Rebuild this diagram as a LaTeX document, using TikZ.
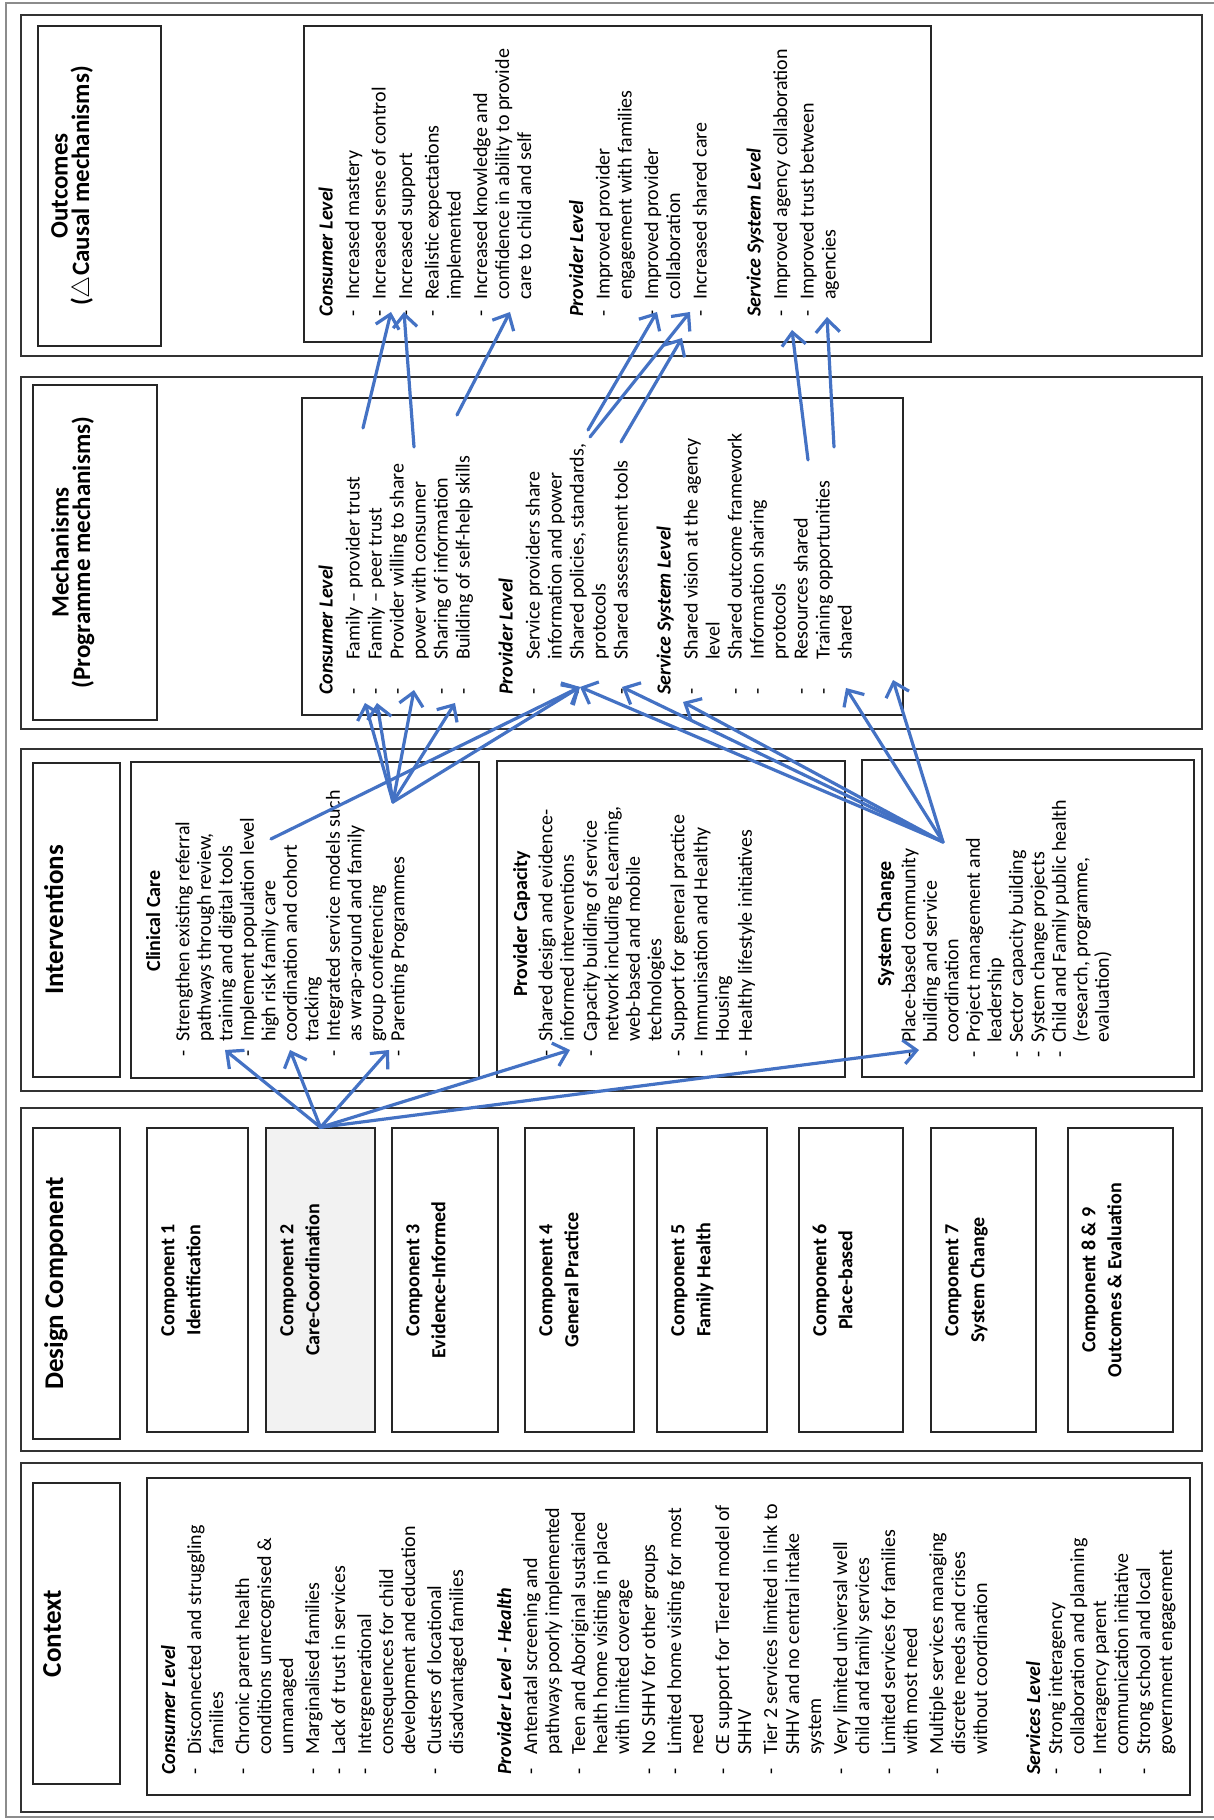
\documentclass[tikz,border=0pt]{standalone}
\usepackage{fontspec}
\setmainfont{Carlito}
\usetikzlibrary{arrows.meta, positioning}
\definecolor{linkblue}{RGB}{68,114,196}
\definecolor{compgrey}{RGB}{242,242,242}
\newcommand{\lvl}[1]{\multicolumn{2}{@{}l@{}}{\bfseries\itshape #1}}

\begin{document}
\begin{tikzpicture}[
        x=1pt, y=1pt,
        every node/.style={inner sep=0pt},
        outerframe/.style={draw=black!45, line width=1.6pt},
        bandbox/.style={draw=black!80, line width=1.4pt},
        cellbox/.style={draw=black!85, line width=1.3pt},
        titletext/.style={font=\fontsize{27}{27}\selectfont\bfseries, anchor=base},
        titletwo/.style={font=\fontsize{25}{21.5}\selectfont\bfseries, align=center, anchor=north},
        headtext/.style={font=\fontsize{20}{21.5}\selectfont\bfseries, anchor=base},
        comptext/.style={font=\fontsize{20}{26}\selectfont\bfseries, anchor=north},
        ctxtext/.style={font=\fontsize{20}{22}\selectfont, anchor=north west},
        inttext/.style={font=\fontsize{20}{21.5}\selectfont, anchor=north west},
        mechtext/.style={font=\fontsize{20}{22}\selectfont, anchor=north west},
        outtext/.style={font=\fontsize{20}{22}\selectfont, anchor=north west},
        arrowlink/.style={-{Straight Barb[length=13pt,width=24pt]}, line width=3.2pt, draw=linkblue, line cap=round}
    ]
    \useasboundingbox (0,0) rectangle (1213,1820);
    \begin{scope}[rotate=90, transform shape]
        \node[outerframe, minimum width=1814pt, minimum height=1214pt] (frame) at (910,-613) {};

        \node[bandbox, minimum width=349pt, minimum height=1181pt] (ctxband) at (182.5,-611.5) {};
        \node[bandbox, minimum width=343pt, minimum height=1181pt] (desband) at (540.5,-611.5) {};
        \node[bandbox, minimum width=342pt, minimum height=1181pt] (intband) at (900,-611.5) {};
        \node[bandbox, minimum width=352pt, minimum height=1181pt] (mechband) at (1267,-611.5) {};
        \node[bandbox, minimum width=341pt, minimum height=1181pt] (outband) at (1634.5,-611.5) {};

        \node[cellbox, minimum width=301pt, minimum height=87pt] (ctxtitle) at (186.5,-76.5) {};
        \node[cellbox, minimum width=311pt, minimum height=87pt] (destitle) at (536.5,-76.5) {};
        \node[cellbox, minimum width=314pt, minimum height=87pt] (inttitle) at (900,-76.5) {};
        \node[cellbox, minimum width=335pt, minimum height=124pt] (mechtitle) at (1267.5,-95) {};
        \node[cellbox, minimum width=320pt, minimum height=123pt] (outtitle) at (1634,-99.5) {};

        \node[titletext] (ctxlabel) at (186.5,-61) {Context};
        \node[titletext] (deslabel) at (536.5,-63) {Design Component};
        \node[titletext] (intlabel) at (900,-63) {Interventions};
        \node[titletwo] (mechlabel) at (1267.5,-51) {Mechanisms\\(Programme mechanisms)};
        \node[titletwo] (outlabel) at (1634,-51) {Outcomes\\({\normalfont$\triangle$}Causal mechanisms)};

        % context
        \node[cellbox, minimum width=317pt, minimum height=1043pt] (ctxbox) at (183.5,-668.5) {};
        \node[ctxtext] (ctxlist) at (45,-159.6) {\begin{tabular}{@{}l@{\hspace{14pt}}l@{}}
            \lvl{Consumer Level}\\[4pt]
            - & Disconnected and struggling\\
              & families\\[4pt]
            - & Chronic parent health\\
              & conditions unrecognised \&\\
              & unmanaged\\[4pt]
            - & Marginalised families\\[4pt]
            - & Lack of trust in services\\[4pt]
            - & Intergenerational\\
              & consequences for child\\
              & development and education\\[4pt]
            - & Clusters of locational\\
              & disadvantaged families\\[26pt]
            \lvl{Provider Level - Health}\\[4pt]
            - & Antenatal screening and\\
              & pathways poorly implemented\\[4pt]
            - & Teen and Aboriginal sustained\\
              & health home visiting in place\\
              & with limited coverage\\[4pt]
            - & No SHHV for other groups\\[4pt]
            - & Limited home visiting for most\\
              & need\\[4pt]
            - & CE support for Tiered model of\\
              & SHHV\\[4pt]
            - & Tier 2 services limited in link to\\
              & SHHV and no central intake\\
              & system\\[4pt]
            - & Very limited universal well\\
              & child and family services\\[4pt]
            - & Limited services for families\\
              & with most need\\[4pt]
            - & Multiple services managing\\
              & discrete needs and crises\\
              & without coordination\\[31pt]
            \lvl{Services Level}\\
            - & Strong interagency\\
              & collaboration and planning\\
            - & Interagency parent\\
              & communication initiative\\
            - & Strong school and local\\
              & government engagement
        \end{tabular}};

        % design components
        \node[cellbox, minimum width=304pt, minimum height=101pt] (c1) at (540,-197.5) {};
        \node[cellbox, fill=compgrey, minimum width=304pt, minimum height=109pt] (c2) at (540,-320.5) {};
        \node[cellbox, minimum width=304pt, minimum height=106pt] (c3) at (540,-445) {};
        \node[cellbox, minimum width=304pt, minimum height=109pt] (c4) at (540,-579.5) {};
        \node[cellbox, minimum width=304pt, minimum height=110pt] (c5) at (540,-712) {};
        \node[cellbox, minimum width=304pt, minimum height=104pt] (c6) at (540,-851) {};
        \node[cellbox, minimum width=304pt, minimum height=105pt] (c7) at (540,-983.5) {};
        \node[cellbox, minimum width=304pt, minimum height=105pt] (c8) at (540,-1120.5) {};
        \node[comptext] (c1text) at (540,-156) {\begin{tabular}{@{}c@{}}Component 1\\Identification\end{tabular}};
        \node[comptext] (c2text) at (540,-275) {\begin{tabular}{@{}c@{}}Component 2\\Care-Coordination\end{tabular}};
        \node[comptext] (c3text) at (540,-401) {\begin{tabular}{@{}c@{}}Component 3\\Evidence-Informed\end{tabular}};
        \node[comptext] (c4text) at (540,-534) {\begin{tabular}{@{}c@{}}Component 4\\General Practice\end{tabular}};
        \node[comptext] (c5text) at (540,-666) {\begin{tabular}{@{}c@{}}Component 5\\Family Health\end{tabular}};
        \node[comptext] (c6text) at (540,-808) {\begin{tabular}{@{}c@{}}Component 6\\Place-based\end{tabular}};
        \node[comptext] (c7text) at (540,-940) {\begin{tabular}{@{}c@{}}Component 7\\System Change\end{tabular}};
        \node[comptext] (c8text) at (540,-1077) {\begin{tabular}{@{}c@{}}Component 8 \& 9\\Outcomes \& Evaluation\end{tabular}};

        % interventions
        \node[cellbox, minimum width=316pt, minimum height=348pt] (clin) at (900,-305) {};
        \node[cellbox, minimum width=316pt, minimum height=348pt] (prov) at (901,-671) {};
        \node[cellbox, minimum width=317pt, minimum height=332pt] (sysc) at (901.5,-1028) {};
        \node[headtext] (clinhead) at (899,-160) {Clinical Care};
        \node[headtext] (provhead) at (896,-527) {Provider Capacity};
        \node[headtext] (syshead) at (896,-891) {System Change};
        \node[inttext] (clinlist) at (763,-174) {\begin{tabular}{@{}l@{\hspace{9pt}}l@{}}
            - & Strengthen existing referral\\
              & pathways through review,\\
              & training and digital tools\\
            - & Implement population level\\
              & high risk family care\\
              & coordination and cohort\\
              & tracking\\
            - & Integrated service models such\\
              & as wrap-around and family\\
              & group conferencing\\
            - & Parenting Programmes
        \end{tabular}};
        \node[inttext] (provlist) at (763,-537) {\begin{tabular}{@{}l@{\hspace{9pt}}l@{}}
            - & Shared design and evidence-\\
              & informed interventions\\[1.5pt]
            - & Capacity building of service\\
              & network including eLearning,\\
              & web-based and mobile\\
              & technologies\\[1.5pt]
            - & Support for general practice\\[1.5pt]
            - & Immunisation and Healthy\\
              & Housing\\[1.5pt]
            - & Healthy lifestyle initiatives
        \end{tabular}};
        \node[inttext] (syslist) at (762,-900) {\begin{tabular}{@{}l@{\hspace{9pt}}l@{}}
            - & Place-based community\\
              & building and service\\
              & coordination\\
            - & Project management and\\
              & leadership\\
            - & Sector capacity building\\
            - & System change projects\\
            - & Child and Family public health\\
              & (research, programme,\\
              & evaluation)
        \end{tabular}};

        % mechanisms
        \node[cellbox, minimum width=317pt, minimum height=601pt] (mechbox) at (1263.5,-602.5) {};
        \node[mechtext] (mechlist) at (1125,-317) {\begin{tabular}{@{}l@{\hspace{29pt}}l@{}}
            \lvl{Consumer Level}\\[5pt]
            - & Family – provider trust\\
            - & Family – peer trust\\
            - & Provider willing to share\\
              & power with consumer\\
            - & Sharing of information\\
            - & Building of self-help skills\\[21pt]
            \lvl{Provider Level}\\[5pt]
            - & Service providers share\\
              & information and power\\
            - & Shared policies, standards,\\
              & protocols\\
            - & Shared assessment tools\\[21pt]
            \lvl{Service System Level}\\[5pt]
            - & Shared vision at the agency\\
              & level\\
            - & Shared outcome framework\\
            - & Information sharing\\
              & protocols\\
            - & Resources shared\\
            - & Training opportunities\\
              & shared
        \end{tabular}};

        % outcomes
        \node[cellbox, minimum width=316pt, minimum height=627pt] (outbox) at (1636,-617.5) {};
        \node[outtext] (outlist) at (1503,-317) {\begin{tabular}{@{}l@{\hspace{11pt}}l@{}}
            \lvl{Consumer Level}\\[4.5pt]
            - & Increased mastery\\[4.5pt]
            - & Increased sense of control\\[4.5pt]
            - & Increased support\\[4.5pt]
            - & Realistic expectations\\
              & implemented\\[4.5pt]
            - & Increased knowledge and\\
              & confidence in ability to provide\\
              & care to child and self\\[30pt]
            \lvl{Provider Level}\\[4.5pt]
            - & Improved provider\\
              & engagement with families\\[4.5pt]
            - & Improved provider\\
              & collaboration\\[4.5pt]
            - & Increased shared care\\[32pt]
            \lvl{Service System Level}\\[4.5pt]
            - & Improved agency collaboration\\[4.5pt]
            - & Improved trust between\\
              & agencies
        \end{tabular}};

        % arrow ends
        \coordinate (tcl1) at (770,-225);
        \coordinate (tcl2) at (770,-290);
        \coordinate (tcl3) at (770,-389);
        \coordinate (tpc) at (770,-570);
        \coordinate (tsc) at (770,-919);
        \coordinate (scl0) at (981,-271);
        \coordinate (scl1) at (1018,-393);
        \coordinate (ssc) at (978,-943);
        \coordinate (tm1) at (1117,-365);
        \coordinate (tm2) at (1117,-377);
        \coordinate (tm3) at (1130,-414);
        \coordinate (tm4) at (1117,-455);
        \coordinate (tm5) at (1133,-580);
        \coordinate (tm6) at (1133,-622);
        \coordinate (tm7) at (1118,-683);
        \coordinate (tm8) at (1132,-846);
        \coordinate (tm9) at (1140,-893);
        \coordinate (sm1) at (1392,-363);
        \coordinate (sm2) at (1373,-414);
        \coordinate (sm3) at (1405,-457);
        \coordinate (sm4) at (1390,-588);
        \coordinate (sm4b) at (1383,-590);
        \coordinate (sm5) at (1378,-621);
        \coordinate (sm6) at (1360,-808);
        \coordinate (sm7) at (1373,-834);
        \coordinate (to1) at (1508,-391);
        \coordinate (to2) at (1508,-404);
        \coordinate (to3) at (1508,-510);
        \coordinate (to4) at (1508,-657);
        \coordinate (to5) at (1508,-690);
        \coordinate (to6) at (1482,-682);
        \coordinate (to7) at (1490,-792);
        \coordinate (to8) at (1503,-827);

        \draw[arrowlink] (c2.east) -- (tcl1);
        \draw[arrowlink] (c2.east) -- (tcl2);
        \draw[arrowlink] (c2.east) -- (tcl3);
        \draw[arrowlink] (c2.east) -- (tpc);
        \draw[arrowlink] (c2.east) -- (tsc);

        \draw[arrowlink] (scl1) -- (tm1);
        \draw[arrowlink] (scl1) -- (tm2);
        \draw[arrowlink] (scl1) -- (tm3);
        \draw[arrowlink] (scl1) -- (tm4);
        \draw[arrowlink] (scl1) -- (tm5);
        \draw[arrowlink] (scl0) -- (tm5);
        \draw[arrowlink] (ssc) -- (tm5);
        \draw[arrowlink] (ssc) -- (tm6);
        \draw[arrowlink] (ssc) -- (tm7);
        \draw[arrowlink] (ssc) -- (tm8);
        \draw[arrowlink] (ssc) -- (tm9);

        \draw[arrowlink] (sm1) -- (to1);
        \draw[arrowlink] (sm2) -- (to2);
        \draw[arrowlink] (sm3) -- (to3);
        \draw[arrowlink] (sm4) -- (to4);
        \draw[arrowlink] (sm4b) -- (to5);
        \draw[arrowlink] (sm5) -- (to6);
        \draw[arrowlink] (sm6) -- (to7);
        \draw[arrowlink] (sm7) -- (to8);
    \end{scope}
\end{tikzpicture}
\end{document}
